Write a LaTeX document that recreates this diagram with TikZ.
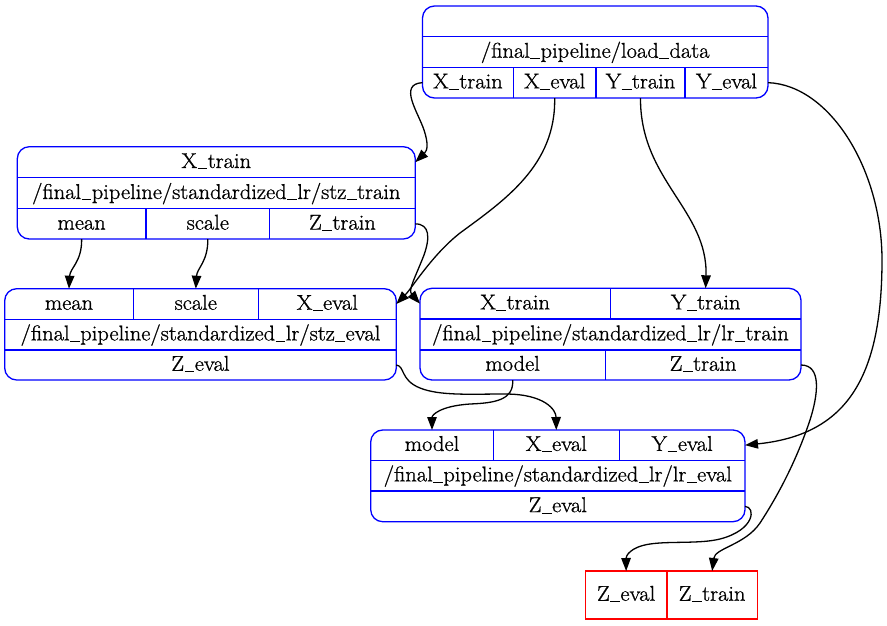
\documentclass[tikz,border=0pt]{standalone}
\usepackage{fontspec}
\usetikzlibrary{arrows.meta}
\newfontfamily\recfam{Latin Modern Roman}[FakeBold=0.9,FakeStretch=1.05]
\newcommand{\recfont}{\recfam\fontsize{21.4}{24}\selectfont}
\newcommand{\us}{\kern0.02em\rule[-0.07em]{0.46em}{0.05em}\kern0.02em}
\begin{document}
\begin{tikzpicture}[x=1pt,y=-1pt,
  cell/.style={inner sep=0pt,outer sep=0pt,anchor=center,font=\recfont,text=black,
    text height=14.5pt,text depth=3pt},
  recbox/.style={draw=blue,line width=1.3pt,rounded corners=12pt},
  recline/.style={draw=blue,line width=1.3pt},
  outbox/.style={draw=red,line width=1.3pt},
  conn/.style={draw=black,line width=1.3pt,-{Triangle[length=13pt,width=9.5pt]}}]
\useasboundingbox (0,0) rectangle (887,625);

% ---------- load_data ----------
\node[cell,minimum width=345.5pt,minimum height=30.7pt] (ldTop) at (595.25,21.35) {};
\node[cell,minimum width=345.5pt,minimum height=30.6pt] (ldName) at (595.25,52) {/final\us pipeline/load\us data};
\node[cell,minimum width=90.8pt,minimum height=30.7pt] (ldXtrain) at (467.9,82.65) {X\us train};
\node[cell,minimum width=82.7pt,minimum height=30.7pt] (ldXeval) at (554.65,82.65) {X\us eval};
\node[cell,minimum width=89pt,minimum height=30.7pt] (ldYtrain) at (640.5,82.65) {Y\us train};
\node[cell,minimum width=83pt,minimum height=30.7pt] (ldYeval) at (726.5,82.65) {Y\us eval};
\draw[recbox] (ldTop.north west) rectangle (ldYeval.south east);
\draw[recline] (ldName.north west) -- (ldName.north east);
\draw[recline] (ldName.south west) -- (ldName.south east);
\draw[recline] (ldXtrain.north east) -- (ldXtrain.south east);
\draw[recline] (ldXeval.north east) -- (ldXeval.south east);
\draw[recline] (ldYtrain.north east) -- (ldYtrain.south east);

% ---------- stz_train ----------
\node[cell,minimum width=398pt,minimum height=31pt] (stXtrain) at (216.3,162.2) {X\us train};
\node[cell,minimum width=398pt,minimum height=31pt] (stName) at (216.3,193.2) {/final\us pipeline/standardized\us lr/stz\us train};
\node[cell,minimum width=128.7pt,minimum height=30.3pt] (stMean) at (81.65,223.85) {mean};
\node[cell,minimum width=123.7pt,minimum height=30.3pt] (stScale) at (207.85,223.85) {scale};
\node[cell,minimum width=145.6pt,minimum height=30.3pt] (stZtrain) at (342.5,223.85) {Z\us train};
\draw[recbox] (stXtrain.north west) rectangle (stZtrain.south east);
\draw[recline] (stName.north west) -- (stName.north east);
\draw[recline] (stName.south west) -- (stName.south east);
\draw[recline] (stMean.north east) -- (stMean.south east);
\draw[recline] (stScale.north east) -- (stScale.south east);

% ---------- stz_eval ----------
\node[cell,minimum width=128.6pt,minimum height=30.6pt] (seMean) at (69,304) {mean};
\node[cell,minimum width=125pt,minimum height=30.6pt] (seScale) at (195.8,304) {scale};
\node[cell,minimum width=138pt,minimum height=30.6pt] (seXeval) at (327.3,304) {X\us eval};
\node[cell,minimum width=391.6pt,minimum height=30.7pt] (seName) at (200.5,334.65) {/final\us pipeline/standardized\us lr/stz\us eval};
\node[cell,minimum width=391.6pt,minimum height=30pt] (seZeval) at (200.5,365) {Z\us eval};
\draw[recbox] (seMean.north west) rectangle (seZeval.south east);
\draw[recline] (seName.north west) -- (seName.north east);
\draw[recline] (seName.south west) -- (seName.south east);
\draw[recline] (seMean.north east) -- (seMean.south east);
\draw[recline] (seScale.north east) -- (seScale.south east);

% ---------- lr_train ----------
\node[cell,minimum width=190.3pt,minimum height=30.7pt] (ltXtrain) at (515.15,303.65) {X\us train};
\node[cell,minimum width=190.7pt,minimum height=30.7pt] (ltYtrain) at (705.65,303.65) {Y\us train};
\node[cell,minimum width=381pt,minimum height=31pt] (ltName) at (610.5,334.5) {/final\us pipeline/standardized\us lr/lr\us train};
\node[cell,minimum width=185.3pt,minimum height=30pt] (ltModel) at (512.65,365) {model};
\node[cell,minimum width=195.7pt,minimum height=30pt] (ltZtrain) at (703.15,365) {Z\us train};
\draw[recbox] (ltXtrain.north west) rectangle (ltZtrain.south east);
\draw[recline] (ltName.north west) -- (ltName.north east);
\draw[recline] (ltName.south west) -- (ltName.south east);
\draw[recline] (ltXtrain.north east) -- (ltXtrain.south east);
\draw[recline] (ltModel.north east) -- (ltModel.south east);

% ---------- lr_eval ----------
\node[cell,minimum width=122.6pt,minimum height=30.3pt] (leModel) at (432,445.15) {model};
\node[cell,minimum width=126pt,minimum height=30.3pt] (leXeval) at (556.3,445.15) {X\us eval};
\node[cell,minimum width=125.7pt,minimum height=30.3pt] (leYeval) at (682.15,445.15) {Y\us eval};
\node[cell,minimum width=374.3pt,minimum height=30.7pt] (leName) at (557.85,475.65) {/final\us pipeline/standardized\us lr/lr\us eval};
\node[cell,minimum width=374.3pt,minimum height=30.7pt] (leZeval) at (557.85,506.35) {Z\us eval};
\draw[recbox] (leModel.north west) rectangle (leZeval.south east);
\draw[recline] (leName.north west) -- (leName.north east);
\draw[recline] (leName.south west) -- (leName.south east);
\draw[recline] (leModel.north east) -- (leModel.south east);
\draw[recline] (leXeval.north east) -- (leXeval.south east);

% ---------- outputs ----------
\node[cell,minimum width=81.7pt,minimum height=48pt] (outZeval) at (626.15,595) {Z\us eval};
\node[cell,minimum width=90.3pt,minimum height=48pt] (outZtrain) at (712.15,595) {Z\us train};
\draw[outbox] (outZeval.north west) rectangle (outZtrain.south east);
\draw[outbox] (outZeval.north east) -- (outZeval.south east);

% ---------- connectors ----------
\draw[conn] (ldXtrain.west) .. controls (398,84) and (418,112) .. (424,130)
  .. controls (428,142) and (428,150) .. (stXtrain.east);
\draw[conn] (ldXeval.south) .. controls (556,165) and (505,200) .. (460,233)
  .. controls (432,255) and (412,288) .. (seXeval.east);
\draw[conn] (ldYtrain.south) .. controls (640,180) and (708,210) .. (ltYtrain.north);
\draw[conn] (ldYeval.east) .. controls (830,85) and (882,170) .. (882,260)
  .. controls (882,380) and (845,435) .. (leYeval.east);
\draw[conn] (stMean.south) .. controls (82,262) and (70,268) .. (seMean.north);
\draw[conn] (stScale.south) .. controls (208,262) and (197,268) .. (seScale.north);
\draw[conn] (stZtrain.east) .. controls (430,224) and (430,238) .. (424,255)
  .. controls (415,278) and (408,290) .. (ltXtrain.west);
\draw[conn] (seZeval.east) .. controls (405,366) and (400,380) .. (420,388)
  .. controls (440,396) and (470,394) .. (505,394)
  .. controls (545,394) and (556,410) .. (leXeval.north);
\draw[conn] (ltModel.south) .. controls (514,400) and (495,403) .. (470,404)
  .. controls (440,406) and (432,415) .. (leModel.north);
\draw[conn] (ltZtrain.east) .. controls (822,365) and (818,395) .. (810,420)
  .. controls (795,465) and (775,500) .. (760,523)
  .. controls (745,545) and (715,548) .. (outZtrain.north);
\draw[conn] (leZeval.east) .. controls (756,507) and (755,530) .. (720,539)
  .. controls (700,544) and (670,541) .. (650,544)
  .. controls (630,547) and (626,556) .. (outZeval.north);
\end{tikzpicture}
\end{document}
